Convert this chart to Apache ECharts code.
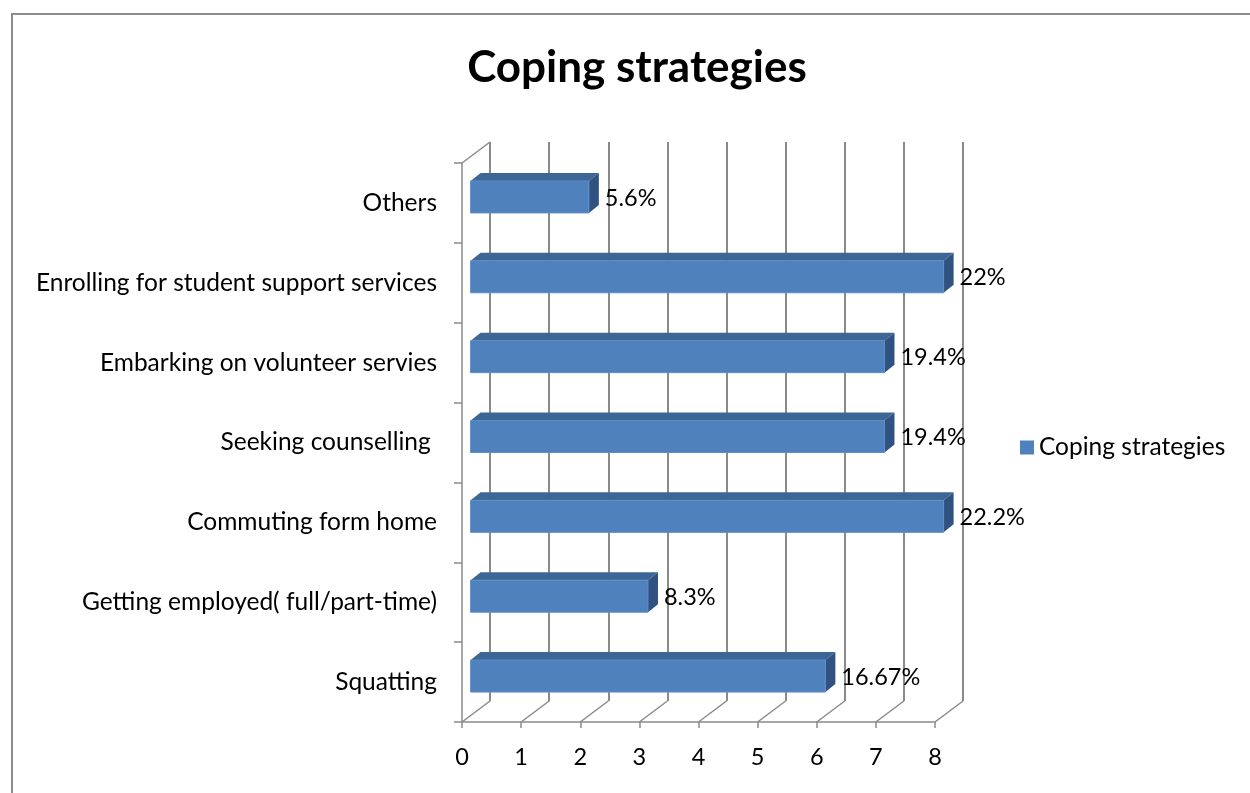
<!DOCTYPE html>
<html><head><meta charset="utf-8">
<script src="https://cdn.jsdelivr.net/npm/echarts/dist/echarts.min.js"></script>
<style>html,body{margin:0;padding:0;background:#fff}#chart{width:1250px;height:793px}</style>
</head><body><div id="chart"></div>
<script>
// ---- data ----
const categories = ["Squatting", "Getting employed( full/part-time)", "Commuting form home", "Seeking counselling ", "Embarking on volunteer servies", "Enrolling for student support services", "Others"];
const values = [6, 3, 8, 7, 7, 8, 2];
const valueLabels = ["16.67%", "8.3%", "22.2%", "19.4%", "19.4%", "22%", "5.6%"];
const xTicks = [0, 1, 2, 3, 4, 5, 6, 7, 8];
const seriesName = "Coping strategies";
const titleText = "Coping strategies";

// ---- style / layout ----
const FONT = 'Lato, "Noto Sans", sans-serif';
const TXT = 24.5, NUM = 23.5;
const FRONT = {left: 462, top: 163, width: 473, height: 559};
const DX = 28, DY = -21;
const BACK = {left: FRONT.left + DX, top: FRONT.top + DY, width: FRONT.width, height: FRONT.height};
const LINE = '#8a8a8a';
const C_FRONT = '#4f81bd', C_TOP = '#3d6696', C_SIDE = '#2f5281';

const chart = echarts.init(document.getElementById('chart'));

function renderBar(params, api) {
  const v = api.value(0), idx = api.value(1);
  const c0 = api.coord([0, idx]), c1 = api.coord([v, idx]);
  const ox = 8.6, bx = 10, by = -8;
  const x0 = c0[0] + ox, x1 = c1[0] + ox;
  const yc = c0[1];
  const top = yc - 22, bot = yc + 10;
  return {
    type: 'group',
    children: [
      {type: 'polygon', shape: {points: [[x0, top], [x0 + bx, top + by], [x1 + bx, top + by], [x1, top]]}, style: {fill: C_TOP}},
      {type: 'polygon', shape: {points: [[x1, top], [x1 + bx, top + by], [x1 + bx, bot + by], [x1, bot]]}, style: {fill: C_SIDE}},
      {type: 'rect', shape: {x: x0, y: top, width: x1 - x0, height: bot - top}, style: {fill: C_FRONT, stroke: '#5d8dc8', lineWidth: 1}},
      {type: 'text', x: x1 + bx + 6, y: (top + bot) / 2 + 1, style: {text: valueLabels[params.dataIndex], fill: '#000', font: NUM + 'px ' + FONT, textVerticalAlign: 'middle', textAlign: 'left'}}
    ]
  };
}

function renderWall(params, api) {
  const v = api.value(0);
  const x = api.coord([v, 0])[0];
  const cs = params.coordSys;
  const yb = cs.y + cs.height;
  const st = {stroke: LINE, lineWidth: 1.5};
  const kids = [{type: 'line', shape: {x1: x, y1: yb, x2: x + DX, y2: yb + DY}, style: st}];
  if (v === xTicks[0]) {
    kids.push({type: 'line', shape: {x1: x, y1: cs.y, x2: x + DX, y2: cs.y + DY}, style: st});
  }
  return {type: 'group', children: kids};
}

chart.setOption({
  backgroundColor: '#fff',
  animation: false,
  graphic: [
    {type: 'rect', z: -10, shape: {x: 12, y: 14, width: 1300, height: 900}, style: {fill: 'none', stroke: '#8c8c8c', lineWidth: 2}},
    {type: 'text', x: 637, y: 68, style: {text: titleText, font: 'bold 44px ' + FONT, fill: '#000', textAlign: 'center', textVerticalAlign: 'middle'}}
  ],
  legend: {
    data: [seriesName], left: 1015, top: 430, itemWidth: 14, itemHeight: 14, icon: 'rect',
    textStyle: {fontSize: TXT, fontFamily: FONT, color: '#000'}
  },
  grid: [
    Object.assign({outerBoundsMode: 'none', containLabel: false}, FRONT),
    Object.assign({outerBoundsMode: 'none', containLabel: false}, BACK)
  ],
  xAxis: [
    {gridIndex: 0, type: 'value', min: xTicks[0], max: xTicks[xTicks.length - 1], interval: 1,
     axisLine: {show: true, lineStyle: {color: LINE, width: 1.5}},
     axisTick: {show: true, length: 6, lineStyle: {color: LINE, width: 1.5}},
     axisLabel: {fontSize: NUM, fontFamily: FONT, color: '#000', margin: 23},
     splitLine: {show: false}},
    {gridIndex: 1, type: 'value', min: xTicks[0], max: xTicks[xTicks.length - 1], interval: 1,
     axisLine: {show: false}, axisTick: {show: false}, axisLabel: {show: false},
     splitLine: {show: true, lineStyle: {color: LINE, width: 2}}}
  ],
  yAxis: [
    {gridIndex: 0, type: 'category', data: categories,
     axisLine: {show: true, lineStyle: {color: LINE, width: 1.5}},
     axisTick: {show: true, length: 8, lineStyle: {color: LINE, width: 1.5}},
     axisLabel: {fontSize: TXT, fontFamily: FONT, color: '#000', margin: 25},
     splitLine: {show: false}},
    {gridIndex: 1, type: 'category', data: categories, show: false}
  ],
  series: [
    {type: 'custom', name: '_walls', xAxisIndex: 0, yAxisIndex: 0, silent: true, z: 1,
     data: xTicks.map(t => [t, 0]), renderItem: renderWall},
    {type: 'custom', name: seriesName, xAxisIndex: 0, yAxisIndex: 0, z: 5,
     itemStyle: {color: C_FRONT},
     data: values.map((v, i) => [v, i]), encode: {x: 0, y: 1}, renderItem: renderBar}
  ]
});
</script></body></html>
